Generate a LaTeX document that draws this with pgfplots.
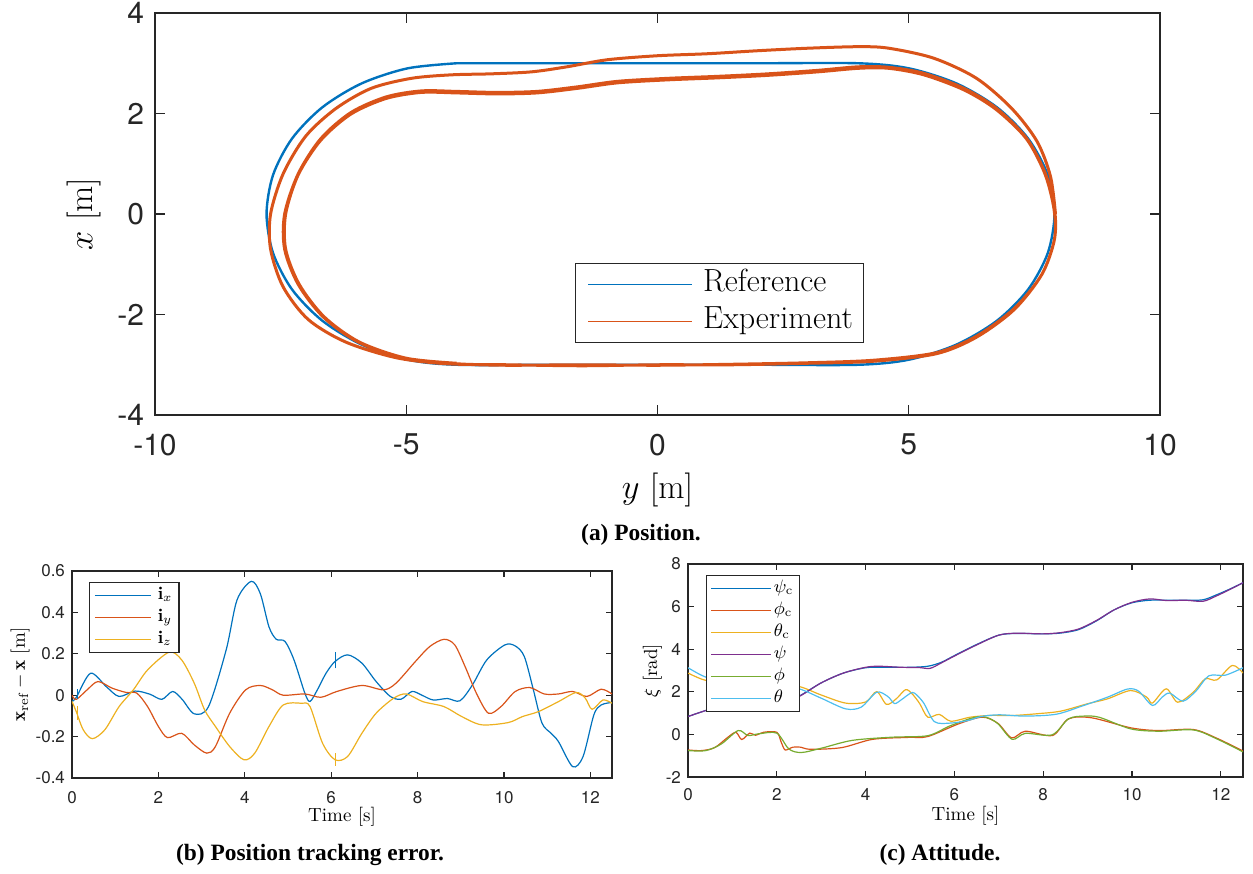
\documentclass[border=0pt]{standalone}
\usepackage{pgfplots}
\pgfplotsset{compat=1.18}
\usepackage{fontspec}
\newfontfamily\hv{TeX Gyre Heros}
\newfontfamily\tms{Liberation Serif}

\definecolor{mblue}{rgb}{0,0.447,0.741}
\definecolor{morange}{rgb}{0.85,0.325,0.098}
\definecolor{myellow}{rgb}{0.929,0.694,0.125}
\definecolor{mpurple}{rgb}{0.494,0.184,0.556}
\definecolor{mgreen}{rgb}{0.466,0.674,0.188}
\definecolor{mcyan}{rgb}{0.301,0.745,0.933}
\definecolor{axgray}{rgb}{0.15,0.15,0.15}

\pgfplotsset{
  mstyle/.style={
    scale only axis,
    axis line style={axgray, line width=0.6pt},
    every tick/.style={axgray, line width=0.6pt},
    tick align=inside,
    /pgf/number format/assume math mode=true,
    legend cell align=left,
  },
}

\begin{document}
\begin{tikzpicture}
\path[use as bounding box] (0,0) rectangle (626.5pt,-436.5pt);

% (a) position
\begin{axis}[mstyle,
  at={(77.5pt,-207.5pt)}, anchor=south west,
  width=502.5pt, height=201pt,
  xmin=-10, xmax=10, ymin=-4, ymax=4,
  xtick={-10,-5,0,5,10}, ytick={-4,-2,0,2,4},
  major tick length=5pt,
  tick label style={font=\hv\fontsize{15}{15}\selectfont, text=axgray},
  xticklabel style={yshift=-6pt},
  yticklabel style={xshift=-2pt},
  xlabel={$y$ [m]}, ylabel={$x$ [m]},
  label style={font=\fontsize{17}{17}\selectfont},
  xlabel style={at={(axis description cs:0.5,-0.187)}, anchor=center},
  ylabel style={at={(axis description cs:-0.0707,0.5)}, anchor=center},
  legend style={at={(axis description cs:0.418,0.378)}, anchor=north west,
    draw=axgray, line width=0.6pt, font=\fontsize{16}{16}\selectfont,
    inner xsep=2.5pt, inner ysep=1.5pt, row sep=0.5pt,
    nodes={inner xsep=2.75pt, inner ysep=1.5pt, text height=11pt, text depth=4pt}},
  legend image code/.code={\path (-3pt,0pt) (54pt,0pt);
    \draw[#1, line width=0.8pt] (0pt,0pt) -- (52pt,0pt);},
]
\addplot[mblue, line width=1.2pt, smooth] coordinates {
(-4,3) (-2,3) (0,3) (2,3) (4,3) (5.009,2.898) (5.95,2.598) (6.758,2.121)
(7.377,1.5) (7.767,0.776) (7.9,0) (7.767,-0.776) (7.377,-1.5) (6.758,-2.121)
(5.95,-2.598) (5.009,-2.898) (4,-3) (2,-3) (0,-3) (-2,-3) (-4,-3)
(-4.978,-2.898) (-5.89,-2.598) (-6.673,-2.121) (-7.274,-1.5) (-7.651,-0.776)
(-7.78,0) (-7.651,0.776) (-7.274,1.5) (-6.673,2.121) (-5.89,2.598)
(-4.978,2.898) (-4,3)};
\addlegendentry{Reference}
\addplot[morange, line width=1.5pt, smooth] coordinates {
(7.92,0.00) (7.82,0.75) (7.55,1.45) (7.05,2.1) (6.35,2.7) (5.5,3.1) (4.6,3.3)
(4.0,3.33) (3.0,3.3) (2.0,3.25) (1.0,3.19) (0.0,3.15) (-1.0,3.07) (-1.8,2.93)
(-2.5,2.83) (-3.3,2.79) (-4.1,2.77) (-4.9,2.7) (-5.7,2.5) (-6.4,2.1) (-7.0,1.55)
(-7.45,0.8) (-7.7,0.0) (-7.7,-0.7) (-7.45,-1.45) (-6.95,-2.1) (-6.2,-2.55)
(-5.2,-2.86) (-4.2,-2.98) (-3.0,-3.0) (-1.5,-3.02) (0.0,-3.0) (1.5,-3.0)
(3.0,-2.97) (4.3,-2.93) (5.55,-2.78) (6.35,-2.45) (7.1,-1.9) (7.65,-1.2)
(7.9,-0.5) (7.9,0.1) (7.72,0.8) (7.35,1.5) (6.75,2.1) (6.1,2.5) (5.3,2.8)
(4.6,2.92) (4.0,2.93) (3.2,2.86) (2.2,2.79) (1.2,2.74) (0.2,2.7) (-0.8,2.64)
(-1.6,2.53) (-2.4,2.44) (-3.2,2.42) (-4.0,2.44) (-4.7,2.45) (-5.4,2.33)
(-6.1,2.02) (-6.7,1.5) (-7.15,0.8) (-7.42,0.0) (-7.42,-0.7) (-7.15,-1.4)
(-6.65,-2.05) (-5.95,-2.55) (-5.0,-2.88) (-4.0,-2.98) (-3.0,-3.01)
(-1.5,-3.0) (0.0,-3.01) (1.5,-2.99) (3.0,-2.96) (4.3,-2.91) (5.55,-2.76)
(6.35,-2.43) (7.1,-1.88) (7.65,-1.2) (7.9,-0.5) (7.89,0.1) (7.71,0.8)
(7.34,1.5) (6.74,2.08) (6.1,2.47) (5.3,2.77) (4.6,2.9) (4.0,2.9) (3.2,2.83)
(2.2,2.76) (1.2,2.71) (0.2,2.67) (-0.8,2.61) (-1.6,2.5) (-2.4,2.41)
(-3.2,2.39) (-4.0,2.41) (-4.7,2.42) (-5.4,2.3) (-6.1,1.99) (-6.7,1.47)
(-7.15,0.78) (-7.4,0.0) (-7.4,-0.7) (-7.13,-1.4) (-6.63,-2.05)
(-5.93,-2.55) (-5.0,-2.87) (-4.0,-2.97)};
\addlegendentry{Experiment}
\end{axis}

% (b) position tracking error
\begin{axis}[mstyle,
  at={(36pt,-389pt)}, anchor=south west,
  width=270pt, height=103.5pt,
  xmin=0, xmax=12.5, ymin=-0.4, ymax=0.6,
  xtick={0,2,4,6,8,10,12}, ytick={-0.4,-0.2,0,0.2,0.4,0.6},
  major tick length=3pt,
  tick label style={font=\hv\fontsize{8.5}{8.5}\selectfont, text=axgray},
  xticklabel style={yshift=-3pt},
  xlabel={Time [s]}, ylabel={$\mathbf{x}_{\mathrm{ref}}-\mathbf{x}$ [m]},
  label style={font=\fontsize{9.5}{9.5}\selectfont},
  xlabel style={at={(axis description cs:0.5,-0.188)}, anchor=center},
  ylabel style={at={(axis description cs:-0.096,0.5)}, anchor=center},
  legend style={at={(axis description cs:0.031,0.947)}, anchor=north west,
    draw=axgray, line width=0.6pt, font=\fontsize{9}{9}\selectfont,
    inner xsep=2pt, inner ysep=1pt, row sep=0pt,
    nodes={inner xsep=1.25pt, inner ysep=1pt, text height=6.5pt, text depth=2.5pt}},
  legend image code/.code={\path (-0.5pt,0pt) (30pt,0pt);
    \draw[#1, line width=0.7pt] (0pt,0pt) -- (28pt,0pt);},
  every axis plot/.append style={line width=0.6pt},
]
\addplot[mblue, smooth] coordinates {
(0,-0.03) (0.1,-0.01) (0.43,0.106) (0.8,0.04) (1.09,-0.006) (1.46,0.02)
(1.8,0.005) (2.08,-0.02) (2.33,0.018) (2.55,-0.02) (2.83,-0.09) (3.16,-0.055)
(3.57,0.22) (3.82,0.46) (4.15,0.55) (4.36,0.49) (4.56,0.33) (4.73,0.27)
(4.93,0.26) (5.14,0.17) (5.39,0.01) (5.51,-0.03) (5.68,0.026) (5.88,0.106)
(6.09,0.163) (6.38,0.195) (6.71,0.155) (7.04,0.066) (7.37,-0.006)
(7.62,-0.019) (7.87,0.018) (8.1,0.0) (8.36,-0.023) (8.69,-0.016)
(8.98,-0.027) (9.27,0.05) (9.6,0.17) (10.02,0.243) (10.26,0.238)
(10.47,0.187) (10.68,0.026) (10.88,-0.135) (11.09,-0.184) (11.26,-0.224)
(11.59,-0.345) (11.83,-0.296) (12.08,-0.095) (12.25,-0.047) (12.5,-0.035)};
\addlegendentry{$\mathbf{i}_x$}
\addplot[morange, smooth] coordinates {
(0,0) (0.1,-0.02) (0.35,0.026) (0.6,0.066) (0.93,0.034) (1.26,0.013)
(1.5,0.01) (1.75,-0.055) (2.0,-0.151) (2.21,-0.205) (2.54,-0.184)
(2.83,-0.24) (3.12,-0.28) (3.32,-0.248) (3.65,-0.087) (4.02,0.026)
(4.36,0.047) (4.64,0.026) (4.89,0.0) (5.39,0.006) (5.76,-0.01) (6.13,0.018)
(6.71,0.047) (7.21,0.026) (7.5,0.058) (7.95,0.163) (8.28,0.235) (8.61,0.27)
(8.86,0.243) (9.1,0.138) (9.36,0.01) (9.64,-0.087) (9.93,-0.055)
(10.26,0.018) (10.6,0.037) (10.93,0.006) (11.26,0.006) (11.59,0.018)
(11.92,-0.006) (12.25,0.029) (12.5,0.006)};
\addlegendentry{$\mathbf{i}_y$}
\addplot[myellow, smooth] coordinates {
(0,-0.03) (0.1,-0.08) (0.26,-0.167) (0.47,-0.21) (0.76,-0.167) (1.09,-0.055)
(1.42,0.026) (1.75,0.122) (2.25,0.208) (2.54,0.17) (2.83,0.058) (3.07,-0.071)
(3.32,-0.151) (3.65,-0.248) (3.98,-0.312) (4.23,-0.28) (4.56,-0.151)
(4.89,-0.047) (5.31,-0.039) (5.51,-0.055) (5.8,-0.232) (6.09,-0.312)
(6.38,-0.296) (6.71,-0.184) (7.04,-0.087) (7.45,-0.014) (7.74,0.006)
(8.12,-0.031) (8.61,-0.055) (9.02,-0.103) (9.48,-0.143) (10.1,-0.132)
(10.43,-0.103) (10.8,-0.079) (11.26,-0.031) (11.67,0.013) (11.88,-0.014)
(12.04,-0.068) (12.29,-0.023) (12.5,-0.039)};
\addlegendentry{$\mathbf{i}_z$}
\addplot[mblue, forget plot] coordinates {(0.12,-0.02) (0.12,0.03)};
\addplot[mblue, forget plot] coordinates {(6.1,0.13) (6.1,0.21)};
\addplot[myellow, forget plot] coordinates {(0.12,-0.05) (0.12,-0.12)};
\addplot[myellow, forget plot] coordinates {(6.1,-0.28) (6.1,-0.34)};
\end{axis}

% (c) attitude
\begin{axis}[mstyle,
  at={(344pt,-388.5pt)}, anchor=south west,
  width=277.5pt, height=106.5pt,
  xmin=0, xmax=12.5, ymin=-2, ymax=8,
  xtick={0,2,4,6,8,10,12}, ytick={-2,0,2,4,6,8},
  major tick length=3pt,
  tick label style={font=\hv\fontsize{8.5}{8.5}\selectfont, text=axgray},
  xticklabel style={yshift=-2pt},
  xlabel={Time [s]}, ylabel={$\xi$ [rad]},
  label style={font=\fontsize{9.5}{9.5}\selectfont},
  xlabel style={at={(axis description cs:0.5,-0.183)}, anchor=center},
  ylabel style={at={(axis description cs:-0.064,0.5)}, anchor=center},
  legend style={at={(axis description cs:0.032,0.948)}, anchor=north west,
    draw=axgray, line width=0.6pt, font=\fontsize{9}{9}\selectfont,
    inner xsep=2pt, inner ysep=1pt, row sep=0pt,
    nodes={inner xsep=1pt, inner ysep=1pt, text height=6.5pt, text depth=2.5pt}},
  legend image code/.code={\draw[#1, line width=0.7pt] (0pt,0pt) -- (30pt,0pt);},
  every axis plot/.append style={line width=0.6pt},
]
\addplot[mblue, smooth] coordinates {
(0,0.84) (0.6,1.25) (1.2,1.52) (1.8,1.62) (2.2,1.68) (2.5,1.8) (3.0,2.42)
(3.5,2.88) (4.0,3.13) (4.4,3.15) (5.0,3.15) (5.4,3.2) (5.7,3.38) (6.0,3.7)
(6.5,4.22) (7.0,4.66) (7.4,4.74) (8.0,4.72) (8.4,4.76) (8.8,4.92) (9.2,5.33)
(9.6,5.85) (10.0,6.18) (10.4,6.3) (10.8,6.3) (11.2,6.3) (11.6,6.32)
(11.9,6.55) (12.2,6.82) (12.5,7.12)};
\addlegendentry{$\psi_\mathrm{c}$}
\addplot[morange, smooth] coordinates {
(0,-0.73) (0.3,-0.76) (0.6,-0.62) (0.9,-0.13) (1.08,0.1) (1.21,-0.24)
(1.39,0.06) (1.52,-0.04) (1.7,0.1) (2.0,0.1) (2.1,-0.37) (2.19,-0.73)
(2.36,-0.6) (2.54,-0.6) (2.76,-0.7) (3.46,-0.62) (4.16,-0.23) (4.96,-0.14)
(5.4,-0.1) (6.1,0.5) (6.63,0.81) (6.98,0.52) (7.29,-0.16) (7.6,0.15)
(8.21,-0.05) (8.57,0.73) (9.09,0.78) (9.97,0.31) (10.59,0.18) (11.38,0.23)
(11.91,-0.18) (12.5,-0.78)};
\addlegendentry{$\phi_\mathrm{c}$}
\addplot[myellow, smooth] coordinates {
(0,2.88) (0.3,2.6) (0.6,2.45) (1.0,2.4) (1.5,2.35) (2.0,2.3) (2.5,2.25)
(3.0,1.85) (3.55,1.47) (4.0,1.52) (4.25,2.01) (4.47,1.41) (4.69,1.67)
(4.9,2.1) (5.05,1.9) (5.22,1.44) (5.4,0.81) (5.66,0.94) (5.92,0.62)
(6.36,0.81) (6.8,0.89) (7.33,0.89) (7.86,0.97) (8.39,1.09) (9.0,1.44)
(9.45,1.67) (9.97,2.06) (10.33,1.75) (10.46,1.47) (10.77,2.14) (11.03,1.51)
(11.38,1.98) (11.65,2.61) (11.91,2.56) (12.26,3.24) (12.5,2.88)};
\addlegendentry{$\theta_\mathrm{c}$}
\addplot[mpurple, smooth] coordinates {
(0,0.84) (0.6,1.25) (1.2,1.52) (1.8,1.62) (2.2,1.66) (2.5,1.78) (3.0,2.42)
(3.5,2.88) (4.0,3.15) (4.3,3.2) (4.8,3.15) (5.2,3.14) (5.45,3.1) (5.7,3.35)
(6.0,3.68) (6.5,4.2) (7.0,4.66) (7.4,4.75) (8.0,4.72) (8.4,4.78) (8.8,4.95)
(9.2,5.35) (9.6,5.85) (10.0,6.2) (10.4,6.36) (10.8,6.28) (11.2,6.3)
(11.6,6.25) (11.9,6.5) (12.2,6.8) (12.5,7.12)};
\addlegendentry{$\psi$}
\addplot[mgreen, smooth] coordinates {
(0,-0.76) (0.4,-0.76) (0.75,-0.45) (1.13,0.18) (1.35,-0.05) (1.6,0.03)
(2.0,0.06) (2.27,-0.68) (2.55,-0.85) (3.0,-0.65) (3.7,-0.28) (4.6,-0.13)
(5.4,-0.06) (5.9,0.4) (6.45,0.8) (6.72,0.8) (6.98,0.5) (7.3,-0.23) (7.6,0.05)
(8.2,-0.02) (8.57,0.73) (8.92,0.86) (9.27,0.8) (9.97,0.26) (10.6,0.15)
(11.38,0.21) (11.9,-0.2) (12.5,-0.82)};
\addlegendentry{$\phi$}
\addplot[mcyan, smooth] coordinates {
(0,3.13) (0.3,2.78) (0.6,2.55) (1.0,2.4) (1.5,2.3) (2.0,2.25) (2.5,2.14)
(3.0,1.7) (3.55,1.2) (3.9,1.28) (4.25,1.98) (4.5,1.78) (4.65,1.45) (4.8,1.62)
(5.0,1.92) (5.1,1.94) (5.3,1.5) (5.55,0.6) (5.9,0.53) (6.3,0.65) (6.6,0.84)
(7.0,0.92) (7.6,0.86) (8.3,0.95) (8.9,1.35) (9.45,1.75) (9.9,2.13)
(10.15,2.03) (10.46,1.36) (10.68,1.75) (10.85,1.94) (11.15,1.56) (11.45,2.06)
(11.73,2.75) (12.1,2.78) (12.5,3.13)};
\addlegendentry{$\theta$}
\end{axis}

\node[font=\tms\bfseries\fontsize{11.7}{14}\selectfont] at (320.5pt,-267.5pt) {(a) Position.};
\node[font=\tms\bfseries\fontsize{11.7}{14}\selectfont] at (155pt,-427.5pt) {(b) Position tracking error.};
\node[font=\tms\bfseries\fontsize{11.7}{14}\selectfont] at (470pt,-427.5pt) {(c) Attitude.};
\end{tikzpicture}
\end{document}
